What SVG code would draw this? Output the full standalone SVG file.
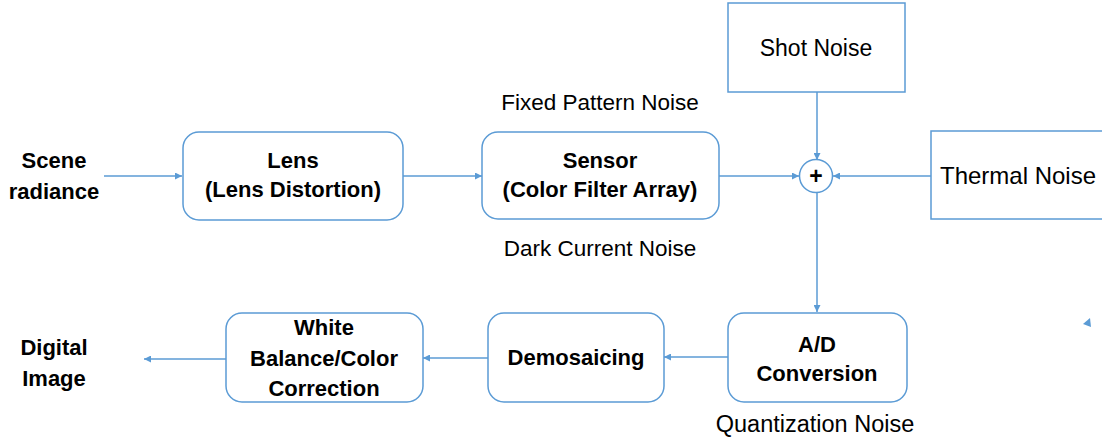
<svg xmlns="http://www.w3.org/2000/svg" width="1102" height="437" viewBox="0 0 1102 437">
<style>
.box{fill:#fff;stroke:#5B9BD5;stroke-width:1.5}
.ln{fill:none;stroke:#5B9BD5;stroke-width:1.5}
.b{font-family:"Liberation Sans",Arial,sans-serif;font-weight:bold;font-size:22px;fill:#000;text-anchor:middle}
.r{font-family:"Liberation Sans",Arial,sans-serif;font-size:22.5px;fill:#000;text-anchor:middle}
</style>
<defs>
<marker id="ah" viewBox="0 0 10 10" refX="10" refY="5" markerWidth="8" markerHeight="7" markerUnits="userSpaceOnUse" orient="auto">
<path d="M0,0 L10,5 L0,10 z" fill="#5B9BD5"/>
</marker>
</defs>
<rect width="1102" height="437" fill="#fff"/>
<g id="connectors">
<line class="ln" x1="104" y1="176" x2="182" y2="176" marker-end="url(#ah)"/>
<line class="ln" x1="403" y1="176" x2="482" y2="176" marker-end="url(#ah)"/>
<line class="ln" x1="719" y1="176" x2="799" y2="176" marker-end="url(#ah)"/>
<line class="ln" x1="817" y1="92" x2="817" y2="160" marker-end="url(#ah)"/>
<line class="ln" x1="931" y1="176" x2="833" y2="176" marker-end="url(#ah)"/>
<line class="ln" x1="817" y1="192" x2="817" y2="312" marker-end="url(#ah)"/>
<line class="ln" x1="728" y1="357" x2="664" y2="357" marker-end="url(#ah)"/>
<line class="ln" x1="488" y1="358" x2="423" y2="358" marker-end="url(#ah)"/>
<line class="ln" x1="226" y1="359" x2="144" y2="359" marker-end="url(#ah)"/>
<polygon points="1083,324 1090,318 1091,327" fill="#5B9BD5"/>
</g>
<g id="scene">
<text class="b" x="54" y="168">Scene</text>
<text class="b" x="54" y="199">radiance</text>
</g>
<g id="lens">
<rect class="box" x="183" y="132" width="220" height="88" rx="16"/>
<text class="b" x="293" y="168">Lens</text>
<text class="b" x="293" y="197">(Lens Distortion)</text>
</g>
<g id="sensor">
<rect class="box" x="482" y="132" width="237" height="87" rx="16"/>
<text class="b" x="600" y="168">Sensor</text>
<text class="b" x="600" y="197">(Color Filter Array)</text>
</g>
<g id="fpn"><text class="r" x="600" y="110">Fixed Pattern Noise</text></g>
<g id="dcn"><text class="r" x="600" y="256">Dark Current Noise</text></g>
<g id="shot">
<rect class="box" x="728" y="3" width="177" height="89"/>
<text class="r" x="816" y="56" style="font-size:23px">Shot Noise</text>
</g>
<g id="thermal">
<rect class="box" x="931" y="131" width="180" height="88"/>
<text class="r" x="1018" y="184" style="font-size:24px">Thermal Noise</text>
</g>
<g id="sum">
<circle class="box" cx="816" cy="176" r="16.5"/>
<text class="b" x="816" y="184" style="font-size:23px">+</text>
</g>
<g id="ad">
<rect class="box" x="728" y="313" width="179" height="89" rx="16"/>
<text class="b" x="817" y="352">A/D</text>
<text class="b" x="817" y="381">Conversion</text>
</g>
<g id="qn"><text class="r" x="815" y="432" style="font-size:23.5px">Quantization Noise</text></g>
<g id="demosaic">
<rect class="box" x="488" y="313" width="176" height="89" rx="16"/>
<text class="b" x="576" y="365">Demosaicing</text>
</g>
<g id="wb">
<rect class="box" x="226" y="313" width="197" height="89" rx="16"/>
<text class="b" x="324" y="335">White</text>
<text class="b" x="324" y="366">Balance/Color</text>
<text class="b" x="324" y="396">Correction</text>
</g>
<g id="digital">
<text class="b" x="54" y="355">Digital</text>
<text class="b" x="54" y="386">Image</text>
</g>
</svg>
